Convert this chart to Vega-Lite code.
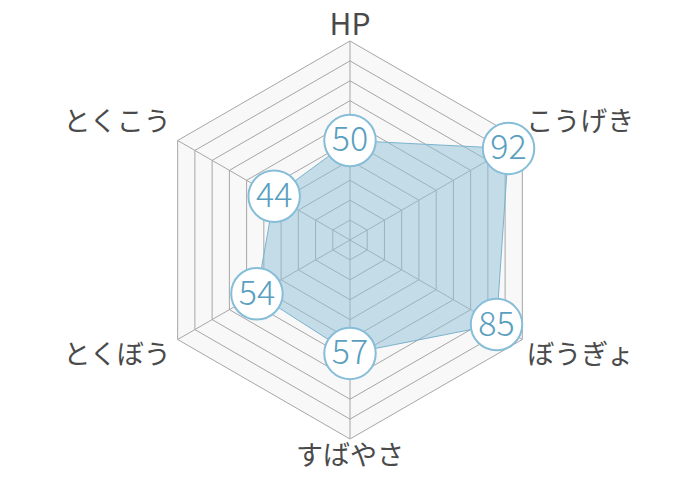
{
  "$schema": "https://vega.github.io/schema/vega-lite/v6.json",
  "width": 700,
  "height": 480,
  "padding": 0,
  "autosize": {"type": "none"},
  "background": "white",
  "view": {"stroke": null},
  "datasets": {
    "stats": [
      {"axis": "HP", "k": 0, "value": 50},
      {"axis": "こうげき", "k": 1, "value": 92},
      {"axis": "ぼうぎょ", "k": 2, "value": 85},
      {"axis": "すばやさ", "k": 3, "value": 57},
      {"axis": "とくぼう", "k": 4, "value": 54},
      {"axis": "とくこう", "k": 5, "value": 44}
    ],
    "rings": [
      {"level": 10, "k": [0, 1, 2, 3, 4, 5]},
      {"level": 20, "k": [0, 1, 2, 3, 4, 5]},
      {"level": 30, "k": [0, 1, 2, 3, 4, 5]},
      {"level": 40, "k": [0, 1, 2, 3, 4, 5]},
      {"level": 50, "k": [0, 1, 2, 3, 4, 5]},
      {"level": 60, "k": [0, 1, 2, 3, 4, 5]},
      {"level": 70, "k": [0, 1, 2, 3, 4, 5]},
      {"level": 80, "k": [0, 1, 2, 3, 4, 5]},
      {"level": 90, "k": [0, 1, 2, 3, 4, 5]},
      {"level": 100, "k": [0, 1, 2, 3, 4, 5]}
    ]
  },
  "encoding": {
    "x": {"field": "x", "type": "quantitative", "axis": null,
          "scale": {"domain": [-175.88, 175.88], "nice": false, "zero": false}},
    "y": {"field": "y", "type": "quantitative", "axis": null,
          "scale": {"domain": [-120.6, 120.6], "nice": false, "zero": false}}
  },
  "layer": [
    {
      "data": {"name": "rings"},
      "transform": [
        {"flatten": ["k"]},
        {"filter": "datum.level == 100"},
        {"calculate": "datum.level * sin(datum.k * PI / 3)", "as": "x"},
        {"calculate": "datum.level * cos(datum.k * PI / 3)", "as": "y"}
      ],
      "mark": {"type": "line", "interpolate": "linear-closed", "fill": "#f8f8f8", "stroke": null},
      "encoding": {"order": {"field": "k"}}
    },
    {
      "data": {"name": "rings"},
      "transform": [
        {"flatten": ["k"]},
        {"calculate": "datum.level * sin(datum.k * PI / 3)", "as": "x"},
        {"calculate": "datum.level * cos(datum.k * PI / 3)", "as": "y"}
      ],
      "mark": {"type": "line", "interpolate": "linear-closed", "stroke": "#a6a6a6", "strokeWidth": 1},
      "encoding": {"detail": {"field": "level"}, "order": {"field": "k"}}
    },
    {
      "data": {"name": "stats"},
      "transform": [
        {"calculate": "100 * sin(datum.k * PI / 3)", "as": "x"},
        {"calculate": "100 * cos(datum.k * PI / 3)", "as": "y"}
      ],
      "mark": {"type": "rule", "stroke": "#a6a6a6", "strokeWidth": 1},
      "encoding": {"x2": {"datum": 0}, "y2": {"datum": 0}}
    },
    {
      "data": {"name": "stats"},
      "transform": [
        {"calculate": "datum.value * sin(datum.k * PI / 3)", "as": "x"},
        {"calculate": "datum.value * cos(datum.k * PI / 3)", "as": "y"}
      ],
      "mark": {"type": "line", "interpolate": "linear-closed", "fill": "#8dbfd6", "fillOpacity": 0.5, "stroke": "#7ab3ce", "strokeWidth": 1},
      "encoding": {"order": {"field": "k"}}
    },
    {
      "data": {"name": "stats"},
      "transform": [
        {"calculate": "datum.value * sin(datum.k * PI / 3)", "as": "x"},
        {"calculate": "datum.value * cos(datum.k * PI / 3)", "as": "y"}
      ],
      "mark": {"type": "point", "shape": "circle", "size": 2650, "filled": true, "fill": "white", "fillOpacity": 1, "stroke": "#86bdd8", "strokeWidth": 2, "opacity": 1}
    },
    {
      "data": {"name": "stats"},
      "transform": [
        {"calculate": "datum.value * sin(datum.k * PI / 3)", "as": "x"},
        {"calculate": "datum.value * cos(datum.k * PI / 3)", "as": "y"}
      ],
      "mark": {"type": "text", "font": "Noto Sans CJK JP", "fontWeight": 300, "fontSize": 34, "color": "#5b9fc0", "align": "center", "baseline": "middle", "dy": 1},
      "encoding": {"text": {"field": "value", "type": "quantitative"}}
    },
    {
      "data": {"name": "stats"},
      "transform": [
        {"filter": "datum.k == 0"},
        {"calculate": "100 * sin(datum.k * PI / 3)", "as": "x"},
        {"calculate": "100 * cos(datum.k * PI / 3)", "as": "y"}
      ],
      "mark": {"type": "text", "font": "Noto Sans CJK JP", "fontWeight": 400, "fontSize": 30, "color": "#4a4a4a", "align": "center", "baseline": "bottom", "dy": 0},
      "encoding": {"text": {"field": "axis"}}
    },
    {
      "data": {"name": "stats"},
      "transform": [
        {"filter": "datum.k == 3"},
        {"calculate": "100 * sin(datum.k * PI / 3)", "as": "x"},
        {"calculate": "100 * cos(datum.k * PI / 3)", "as": "y"}
      ],
      "mark": {"type": "text", "font": "Noto Sans CJK JP", "fontWeight": 400, "fontSize": 27, "color": "#4a4a4a", "align": "center", "baseline": "top", "dy": 5},
      "encoding": {"text": {"field": "axis"}}
    },
    {
      "data": {"name": "stats"},
      "transform": [
        {"filter": "datum.k == 1"},
        {"calculate": "100 * sin(datum.k * PI / 3)", "as": "x"},
        {"calculate": "100 * cos(datum.k * PI / 3)", "as": "y"}
      ],
      "mark": {"type": "text", "font": "Noto Sans CJK JP", "fontWeight": 400, "fontSize": 27, "color": "#4a4a4a", "align": "left", "baseline": "bottom", "dx": 4, "dy": -3},
      "encoding": {"text": {"field": "axis"}}
    },
    {
      "data": {"name": "stats"},
      "transform": [
        {"filter": "datum.k == 2"},
        {"calculate": "100 * sin(datum.k * PI / 3)", "as": "x"},
        {"calculate": "100 * cos(datum.k * PI / 3)", "as": "y"}
      ],
      "mark": {"type": "text", "font": "Noto Sans CJK JP", "fontWeight": 400, "fontSize": 27, "color": "#4a4a4a", "align": "left", "baseline": "top", "dx": 5, "dy": 3},
      "encoding": {"text": {"field": "axis"}}
    },
    {
      "data": {"name": "stats"},
      "transform": [
        {"filter": "datum.k == 4"},
        {"calculate": "100 * sin(datum.k * PI / 3)", "as": "x"},
        {"calculate": "100 * cos(datum.k * PI / 3)", "as": "y"}
      ],
      "mark": {"type": "text", "font": "Noto Sans CJK JP", "fontWeight": 400, "fontSize": 27, "color": "#4a4a4a", "align": "right", "baseline": "top", "dx": -7, "dy": 3},
      "encoding": {"text": {"field": "axis"}}
    },
    {
      "data": {"name": "stats"},
      "transform": [
        {"filter": "datum.k == 5"},
        {"calculate": "100 * sin(datum.k * PI / 3)", "as": "x"},
        {"calculate": "100 * cos(datum.k * PI / 3)", "as": "y"}
      ],
      "mark": {"type": "text", "font": "Noto Sans CJK JP", "fontWeight": 400, "fontSize": 27, "color": "#4a4a4a", "align": "right", "baseline": "bottom", "dx": -7, "dy": -3},
      "encoding": {"text": {"field": "axis"}}
    }
  ]
}
